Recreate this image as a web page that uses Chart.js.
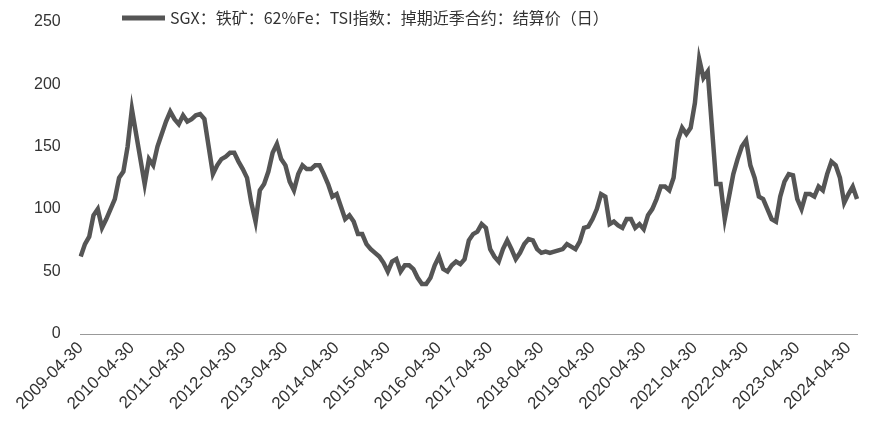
<!DOCTYPE html>
<html><head><meta charset="utf-8">
<script src="https://cdn.jsdelivr.net/npm/chart.js@4"></script>
<style>html,body{margin:0;background:#fff}#w{width:869px;height:424px}</style>
</head><body><div id="w"><canvas id="c"></canvas></div>
<script>
const seriesName = 'SGX：铁矿：62%Fe：TSI指数：掉期近季合约：结算价（日）';
const startYear = 2009, startMonth = 4;
const prices = [
62,72,78,95,100,85,92,100,108,
125,130,150,180,160,140,120,140,135,150,160,170,
178,172,168,175,170,172,175,176,172,150,128,135,
140,142,145,145,138,132,125,105,90,115,120,130,
145,152,140,135,122,115,128,135,132,132,135,135,
128,120,110,112,102,92,95,90,80,80,72,68,
65,62,57,50,58,60,50,55,55,52,45,40,
40,45,55,62,52,50,55,58,56,60,75,80,
82,88,85,68,62,58,68,75,68,60,65,72,
76,75,68,65,66,65,66,67,68,72,70,68,
74,85,86,92,100,112,110,88,90,87,85,92,
92,85,88,84,95,100,108,118,118,115,125,155,
165,160,165,185,220,205,210,165,120,120,92,110,
128,140,150,155,135,125,110,108,100,92,90,110,
122,128,127,108,100,112,112,110,118,115,128,138,
135,125,105,112,118,108];
const months = prices.map((_, i) => {
  const m = startMonth - 1 + i; const y = startYear + Math.floor(m / 12); const mo = m % 12 + 1;
  return y + '-' + String(mo).padStart(2, '0');
});
const yTicks = [0, 50, 100, 150, 200, 250];

const legendPlugin = {id:'lg', afterDraw(ch){
  const c = ch.ctx; c.save();
  c.strokeStyle = '#555'; c.lineWidth = 5;
  c.beginPath(); c.moveTo(122, 18); c.lineTo(165, 18); c.stroke();
  c.fillStyle = '#333'; c.font = '16px "Noto Sans CJK SC", sans-serif'; c.textBaseline = 'middle';
  c.fillText(seriesName, 170, 18); c.restore();
}};

new Chart(document.getElementById('c'), {
  type: 'line',
  data: { labels: months, datasets: [{ label: seriesName, data: prices, borderColor: '#555', borderWidth: 4.5, pointRadius: 0, tension: 0 }] },
  options: {
    responsive: true, maintainAspectRatio: false, animation: false,
    layout: { padding: { top: 10, right: 12, left: 22, bottom: 6 } },
    plugins: { legend: { display: false }, tooltip: { enabled: false } },
    scales: {
      x: { offset: false, grid: { display: false, drawTicks: false }, border: { display: true, color: '#999' },
        ticks: { autoSkip: false, maxRotation: 45, minRotation: 45, color: '#333', font: { size: 17 }, padding: 4,
          callback: (v, i) => months[i].endsWith('-04') ? months[i] + '-30' : null } },
      y: { min: 0, max: 250, grid: { display: false }, border: { display: false },
        afterBuildTicks: a => { a.ticks = yTicks.map(v => ({ value: v })); },
        ticks: { color: '#333', font: { size: 16 }, padding: 12 } }
    }
  },
  plugins: [legendPlugin]
});
</script></body></html>
